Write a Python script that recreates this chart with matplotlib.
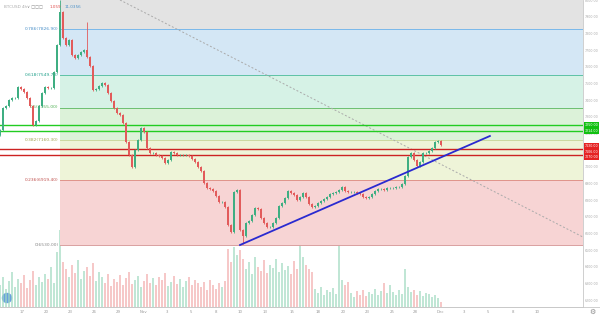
import numpy as np
import matplotlib.pyplot as plt
from matplotlib.transforms import blended_transform_factory
from matplotlib.patches import Ellipse, Rectangle

# 4h closes
closes = [7220, 7352, 7364, 7400, 7412, 7412, 7478, 7466, 7448, 7412,
          7364, 7250, 7274, 7364, 7442, 7478, 7472, 7472, 7568, 7730,
          7928, 7772, 7730, 7760, 7670, 7652, 7670, 7688, 7700, 7658,
          7604, 7460, 7466, 7484, 7502, 7490, 7442, 7394, 7352, 7322,
          7310, 7262, 7148, 7070, 6998, 7100, 7160, 7232, 7208, 7112,
          7082, 7082, 7070, 7064, 7052, 7022, 7040, 7088, 7082, 7070,
          7070, 7070, 7070, 7064, 7046, 7028, 6998, 6974, 6902, 6872,
          6866, 6854, 6824, 6788, 6788, 6758, 6650, 6608, 6848, 6860,
          6620, 6584, 6662, 6674, 6710, 6752, 6746, 6692, 6662, 6638,
          6638, 6662, 6692, 6764, 6782, 6812, 6854, 6842, 6830, 6800,
          6818, 6842, 6818, 6776, 6758, 6764, 6782, 6794, 6806, 6818,
          6836, 6842, 6848, 6860, 6878, 6854, 6848, 6848, 6848, 6842,
          6836, 6818, 6812, 6818, 6836, 6854, 6866, 6866, 6860, 6872,
          6872, 6872, 6878, 6878, 6896, 6944, 7058, 7082, 7040, 7004,
          7028, 7082, 7082, 7094, 7112, 7148, 7154, 7130]
first_open = 7190
spike_high = {20: 8000, 29: 7868}
spike_low = {81: 6536}

volumes = [22, 30, 18, 26, 35, 20, 28, 24, 32, 19, 27, 36, 22, 30, 25, 33, 28, 40, 24,
           55, 77,
           45, 38, 30, 42, 34, 47, 28, 36, 40, 31, 44, 26, 35,
           30, 24, 33, 21, 28, 25, 32, 22, 29, 35, 23, 27, 31, 20, 26, 33, 24, 29, 22, 30,
           27, 34, 21, 25, 31, 23, 28, 20, 26, 30, 22, 27, 24,
           20, 25, 17, 27, 22, 18, 24, 20, 26,
           58, 45, 60, 52, 57, 48,
           38, 45, 33, 50, 40, 36, 47, 34, 42, 39, 48, 35, 44, 37, 41, 33, 46, 38,
           62, 50, 42, 38, 35,
           18, 14, 20, 12, 17, 15, 19, 13,
           66,
           27, 22, 25,
           14, 10, 16, 12, 17, 11, 15, 13, 18, 12, 16, 24, 14,
           22, 15, 12, 17, 13,
           38,
           20, 15, 17, 12, 16, 11, 14, 13, 10, 12, 9, 5]

# fib retracement
fib_ratios = [0, 0.236, 0.382, 0.5, 0.618, 0.786, 1]
fib_low, fib_high = 6530, 8180
fib_start = 20
fib_fill = ['#f7d4d4', '#eef4d8', '#dcf2d9', '#d6f2e6', '#d4e7f5', '#e3e3e3']
fib_line = ['#d9a0a0', '#e0948a', '#cbd9a0', '#6cc070', '#5ec2a6', '#7ab8ea', '#999999']
fib_txt = ['#888888', '#c0504d', '#a0a050', '#4caf50', '#20a08a', '#4a90c8', '#888888']

support_lines = [7250, 7214]
resist_lines = [7106, 7070]
green_tags = [7250, 7214]
red_tags = [7124, 7088, 7058]
red_tag_text = ['7130.00', '7106.00', '7070.00']

trend_x = [80, 163.3]
trend_y = [6530, 7184]
diag_x = [40, 194.3]
diag_y = [8000, 6578]

day_pos = [7.3, 15.3, 23.3, 31.3, 39.3, 47.7, 55.7, 63.7, 72, 80, 88.3,
           97.3, 106, 114.3, 122.3, 130.7, 138.3, 146.7, 154.7, 162.7, 171, 179]
day_labels = ['17', '20', '23', '26', '29', 'Nov', '3', '5', '8', '10', '13',
              '15', '18', '20', '23', '25', '28', 'Dec', '3', '5', '8', '10']
price_ticks = np.arange(6200, 8001, 100)

fig = plt.figure(figsize=(6, 3.16), dpi=100)
rect = [0, 9 / 316, 583 / 600, 307 / 316]
axv = fig.add_axes(rect, zorder=1)
ax = fig.add_axes(rect, zorder=2)
ax.patch.set_alpha(0)

n = len(closes)
idx = np.arange(n)
c = np.array(closes, dtype=float)
o = np.concatenate([[first_open], c[:-1]])
up = c >= o
col = np.where(up, '#3fae82', '#e25b5b')
hi = np.maximum(o, c) + 5
lo = np.minimum(o, c) - 5
for k, v in spike_high.items():
    hi[k] = v
for k, v in spike_low.items():
    lo[k] = v

xmax = 583 / 3
ymin, ymax = 6158, 8000

# volume
axv.bar(idx, volumes, width=0.75, color=np.where(up, '#9fd9bf', '#f2abab'), alpha=0.65)
axv.set_xlim(0, xmax)
axv.set_ylim(0, 307)
axv.axis('off')

# fib zones
lv = [fib_low + r * (fib_high - fib_low) for r in fib_ratios]
for i in range(len(lv) - 1):
    ax.add_patch(Rectangle((fib_start, lv[i]), xmax - fib_start, lv[i + 1] - lv[i],
                           color=fib_fill[i], lw=0, zorder=0))
for i, r in enumerate(fib_ratios):
    ax.plot([fib_start, xmax], [lv[i], lv[i]], color=fib_line[i], lw=0.7, zorder=1)
    if r < 1:
        ax.text(fib_start - 0.5, lv[i], f'{r:g}({lv[i]:.2f})', fontsize=3.2,
                color=fib_txt[i], ha='right', va='center')

for v in support_lines:
    ax.axhline(v, color='#22cc22', lw=1.0, zorder=3)
for v in resist_lines:
    ax.axhline(v, color='#cc2222', lw=1.0, zorder=3)

ax.plot(diag_x, diag_y, color='#aaaaaa', lw=0.7, ls=(0, (2, 2)), zorder=2)

# candles
ax.vlines(idx, lo, hi, colors=col, lw=0.6, zorder=4)
ax.bar(idx, np.maximum(np.abs(c - o), 3), bottom=np.minimum(o, c), width=0.75,
       color=col, zorder=5)

ax.plot(trend_x, trend_y, color='#2a2ad0', lw=1.3, zorder=6)

ax.set_xlim(0, xmax)
ax.set_ylim(ymin, ymax)
for s in ['top', 'left']:
    ax.spines[s].set_visible(False)
for s in ['right', 'bottom']:
    ax.spines[s].set_color('#c8c8c8')
    ax.spines[s].set_linewidth(0.6)
ax.yaxis.tick_right()
ax.set_yticks(price_ticks)
ax.set_yticklabels([f'{t:.2f}' for t in price_ticks])
ax.tick_params(axis='y', length=0, labelsize=2.3, labelcolor='#aaaaaa', pad=1.5)
ax.set_xticks(day_pos)
ax.set_xticklabels(day_labels)
ax.tick_params(axis='x', length=0, labelsize=2.8, labelcolor='#999999', pad=2)

tr = blended_transform_factory(ax.transAxes, ax.transData)
for v in green_tags:
    ax.text(1.003, v, f'{v:.2f}', transform=tr, fontsize=2.3, color='white', va='center',
            bbox=dict(boxstyle='square,pad=0.3', fc='#11c011', ec='none'), clip_on=False)
for v, t in zip(red_tags, red_tag_text):
    ax.text(1.003, v, t, transform=tr, fontsize=2.3, color='white', va='center',
            bbox=dict(boxstyle='square,pad=0.25', fc='#e52222', ec='none'), clip_on=False)

# header
fig.text(4 / 600, 1 - 7 / 316, 'BTCUSD 4h', fontsize=3, color='#aaaaaa', va='center')
fig.text(27 / 600, 1 - 7 / 316, '∨ □□□', fontsize=3, color='#888888', va='center')
fig.text(50 / 600, 1 - 7 / 316, '1.059', fontsize=3, color='#e05050', va='center')
fig.text(65 / 600, 1 - 7 / 316, '11.0356', fontsize=3, color='#4a90c8', va='center')

fig.add_artist(Ellipse((7 / 600, 1 - 298 / 316), 9 / 600, 9 / 316, color='#6aa0e0'))
fig.text(592 / 600, 4 / 316, '⚙', fontsize=5, color='#888888', ha='center', va='center')
fig.add_artist(plt.Line2D([0, 1], [9 / 316, 9 / 316], color='#c8c8c8', lw=0.6))

fig.savefig('out.png', dpi=100, facecolor='white')
